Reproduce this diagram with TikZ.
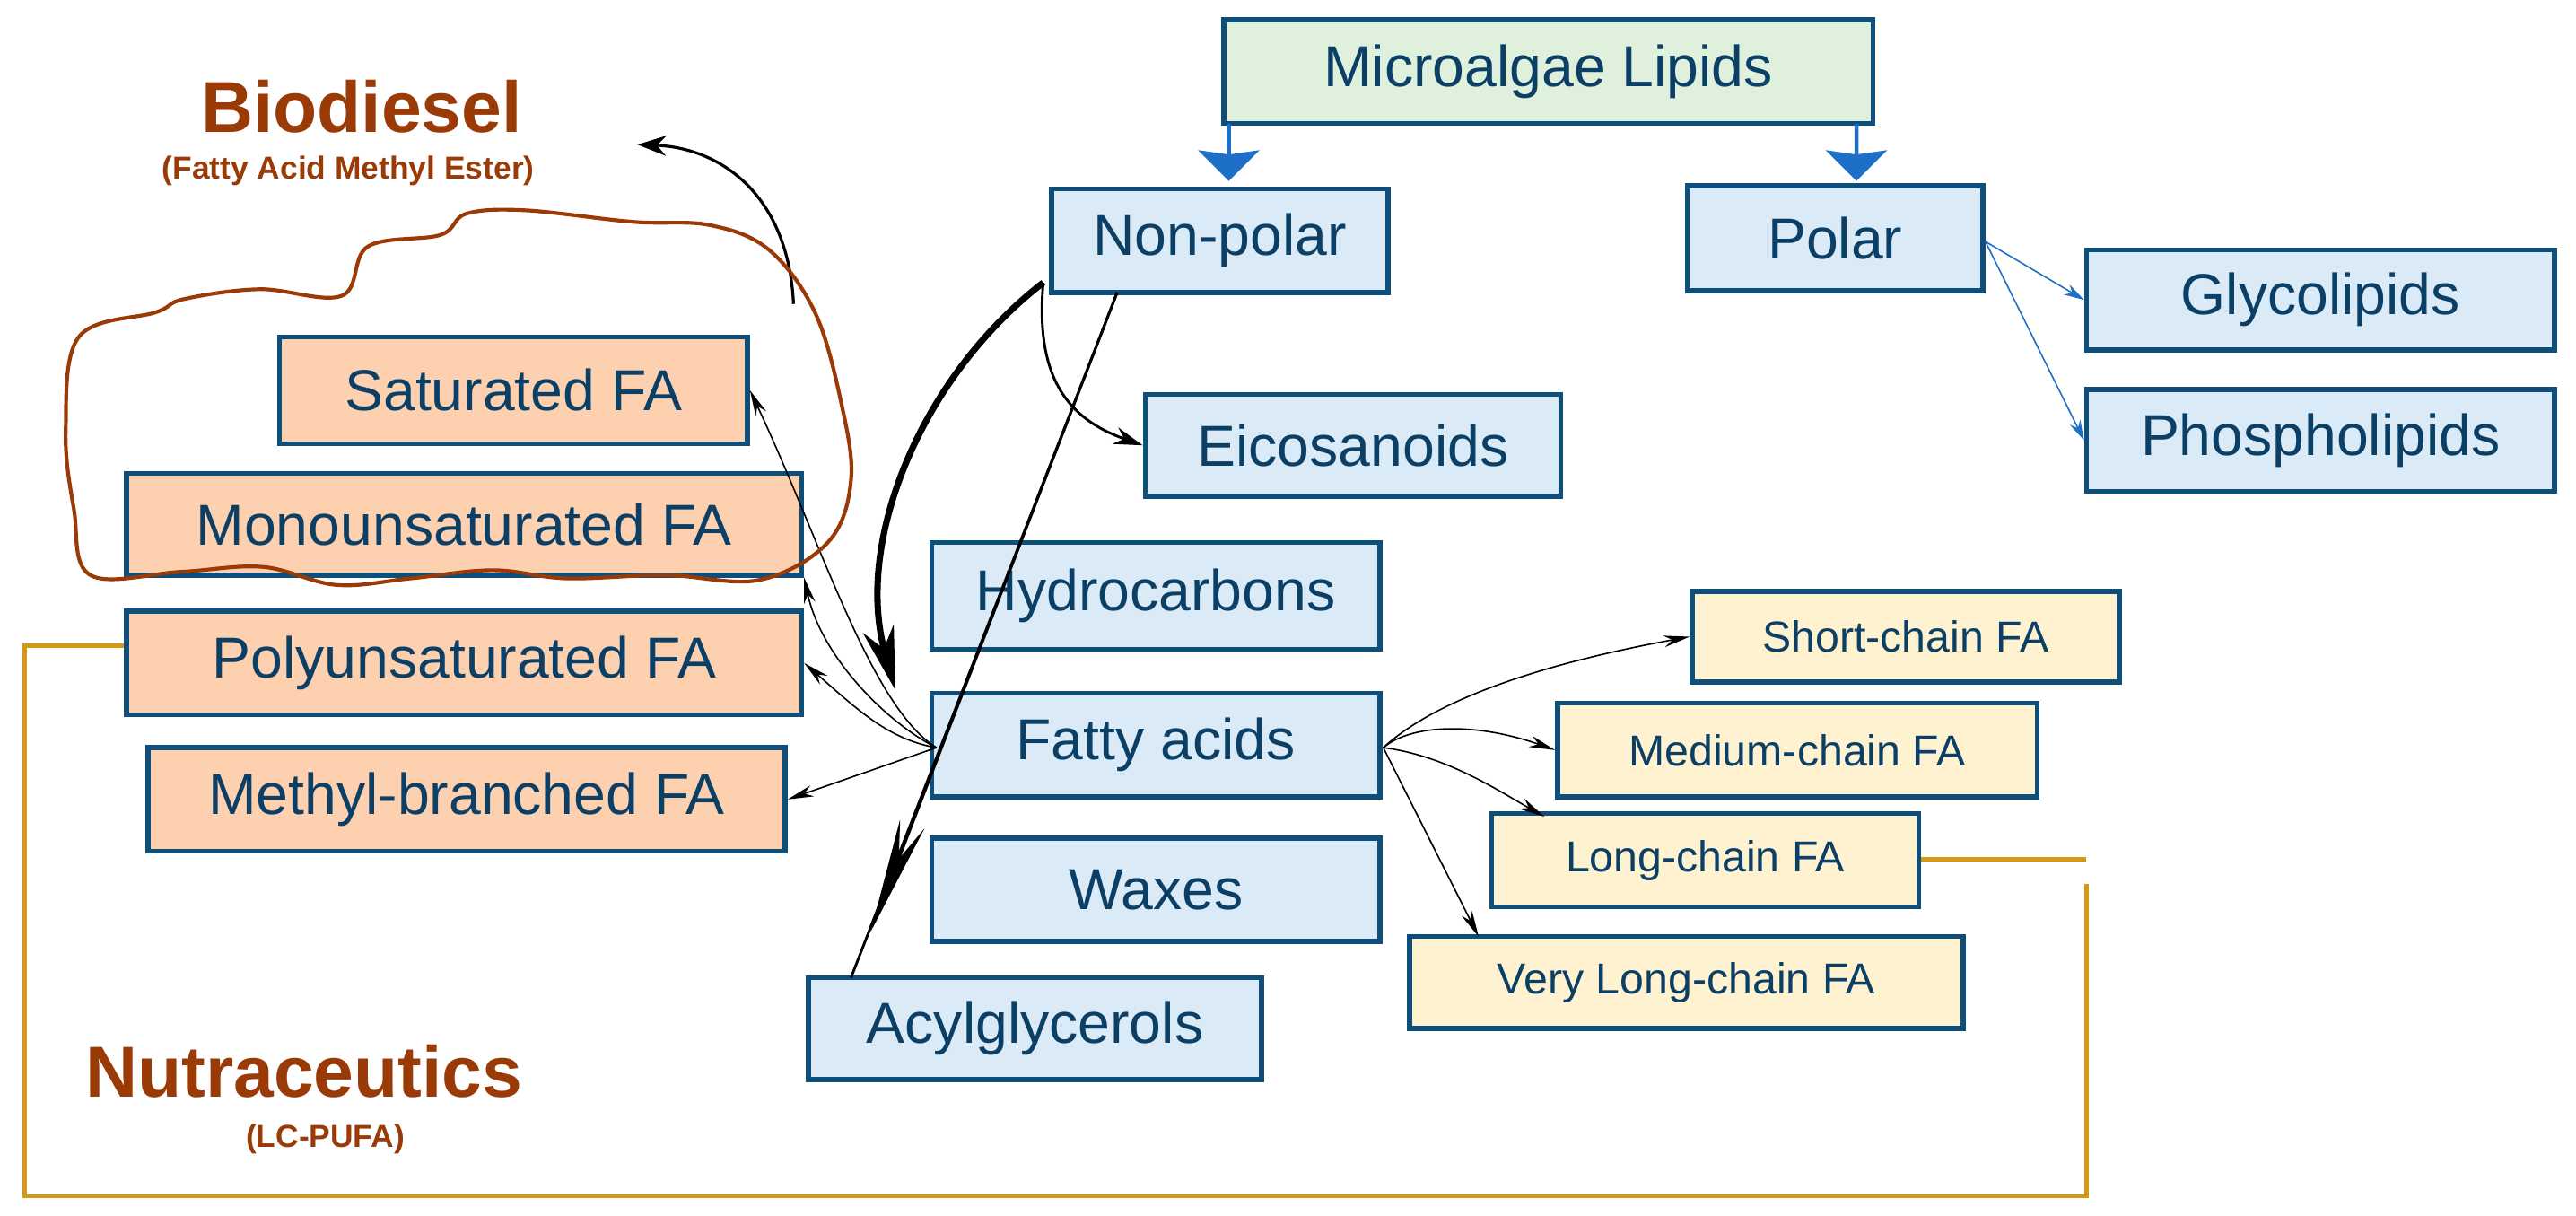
\documentclass[tikz,border=0pt]{standalone}
\usepackage{fontspec}
\setmainfont{Liberation Sans}
\usetikzlibrary{arrows.meta,shapes.arrows}
\definecolor{edgeblue}{HTML}{0D4F7A}
\definecolor{txtblue}{HTML}{0B3F66}
\definecolor{lightblue}{HTML}{DAEAF6}
\definecolor{lightgreen}{HTML}{DFF0DC}
\definecolor{peach}{HTML}{FDD0B0}
\definecolor{cream}{HTML}{FEF2D0}
\definecolor{rust}{HTML}{9A3A06}
\definecolor{gold}{HTML}{D49A12}
\definecolor{arrowblue}{HTML}{1D6FC8}
\tikzset{
  box/.style={draw=edgeblue,line width=1.7pt,text=txtblue,font=\fontsize{20}{22}\selectfont,inner sep=0pt},
  lip/.style={box,fill=lightblue},
  fatty/.style={box,fill=peach},
  chain/.style={box,fill=cream,font=\fontsize{15}{17}\selectfont},
  thin/.style={-{Stealth[length=9pt,width=4pt]},line width=0.5pt},
  bigdown/.style={single arrow,draw=none,fill=arrowblue,shape border rotate=270,minimum height=0.7cm,minimum width=0.75cm,single arrow head extend=0.1cm,single arrow head indent=0.05cm,inner sep=0pt}
}
\begin{document}
\begin{tikzpicture}[x=0.02cm,y=-0.02cm]
  \useasboundingbox (0,0) rectangle (1568,740);
  % golden link
  \draw[gold,line width=1.5pt] (88,393) -- (15,393) -- (15,728) -- (1270,728) -- (1270,538);
  \draw[gold,line width=1.5pt] (1168,523) -- (1270,523);
  % boxes
  \node[box,fill=lightgreen,minimum width=7.9cm,minimum height=1.26cm] (mal) at (942.5,43.5) {Microalgae Lipids};
  \node[lip,minimum width=4.1cm,minimum height=1.26cm] (np) at (742.5,146.5) {Non-polar};
  \node[lip,minimum width=3.6cm,minimum height=1.28cm] (pol) at (1117,145) {Polar};
  \node[lip,minimum width=5.7cm,minimum height=1.22cm] (gly) at (1412.5,182.5) {Glycolipids};
  \node[lip,minimum width=5.7cm,minimum height=1.24cm] (pho) at (1412.5,268) {Phospholipids};
  \node[lip,minimum width=5.06cm,minimum height=1.24cm] (eic) at (823.5,271) {Eicosanoids};
  \node[lip,minimum width=5.46cm,minimum height=1.3cm] (hyd) at (703.5,362.5) {Hydrocarbons};
  \node[lip,minimum width=5.46cm,minimum height=1.26cm] (fa) at (703.5,453.5) {Fatty acids};
  \node[lip,minimum width=5.46cm,minimum height=1.26cm] (wax) at (703.5,541.5) {Waxes};
  \node[lip,minimum width=5.52cm,minimum height=1.24cm] (acy) at (630,626) {Acylglycerols};
  \node[fatty,minimum width=5.7cm,minimum height=1.3cm] (sat) at (312.5,237.5) {Saturated FA};
  \node[fatty,minimum width=8.22cm,minimum height=1.24cm] (mono) at (282.5,319) {Monounsaturated FA};
  \node[fatty,minimum width=8.22cm,minimum height=1.26cm] (poly) at (282.5,403.5) {Polyunsaturated FA};
  \node[fatty,minimum width=7.76cm,minimum height=1.26cm] (meth) at (284,486.5) {Methyl-branched FA};
  \node[chain,minimum width=5.2cm,minimum height=1.1cm] (short) at (1160,387.5) {Short-chain FA};
  \node[chain,minimum width=5.84cm,minimum height=1.14cm] (med) at (1094,456.5) {Medium-chain FA};
  \node[chain,minimum width=5.2cm,minimum height=1.14cm] (long) at (1038,523.5) {Long-chain FA};
  \node[chain,minimum width=6.74cm,minimum height=1.12cm] (vlong) at (1026.5,598) {Very Long-chain FA};
  % titles
  \node[text=rust,font=\fontsize{25}{28}\selectfont\bfseries] (bio) at (220,65) {Biodiesel};
  \node[text=rust,font=\fontsize{11}{13}\selectfont\bfseries] (fame) at (212,104) {(Fatty Acid Methyl Ester)};
  \node[text=rust,font=\fontsize{25}{28}\selectfont\bfseries] (nut) at (185,652) {Nutraceutics};
  \node[text=rust,font=\fontsize{11}{13}\selectfont\bfseries] (lcp) at (198,693) {(LC-PUFA)};
  % blue block arrows
  \node[bigdown] (da) at (748,92) {};
  \node[bigdown] (db) at (1130,92) {};
  % polar
  \draw[thin,draw=arrowblue,-{Stealth[length=7pt,width=4pt]}] (pol.east) ++(0,2) -- (gly.west);
  \draw[thin,draw=arrowblue,-{Stealth[length=7pt,width=4pt]}] (pol.east) ++(0,2) -- (pho.west);
  % non-polar
  \coordinate (npl) at (635,172);
  \coordinate (npb) at (680,178);
  \coordinate (acyt) at (518,595);
  \draw[-{Stealth[length=22pt,width=11pt]},line width=2.2pt] (npl) .. controls (560,230) and (520,330) .. (545,420);
  \draw[-{Stealth[length=10pt,width=6pt]},line width=0.9pt] (npl) .. controls (630,230) and (650,255) .. (eic.west);
  \draw[line width=0.9pt] (npb) -- (acyt);
  \draw[-{Stealth[length=40pt,width=9pt]},line width=0.9pt] (npb) -- (530,567);
  % fatty acids fan
  \coordinate (fal) at (570,455);
  \coordinate (far) at (842,455);
  \draw[thin] (fal) .. controls (530,430) and (500,330) .. (sat.east);
  \draw[thin] (fal) .. controls (540,440) and (500,400) .. (mono.south east);
  \draw[thin] (fal) .. controls (540,450) and (520,430) .. (poly.east);
  \draw[thin] (fal) -- (meth.east);
  \draw[thin] (far) .. controls (880,420) and (960,400) .. (short.west);
  \draw[thin] (far) .. controls (860,440) and (900,440) .. (med.west);
  \draw[thin] (far) .. controls (880,460) and (910,480) .. (940,497);
  \draw[thin] (far) -- (900,570);
  % biodiesel
  \draw[-{Stealth[length=10pt,width=7pt]},line width=1pt] (483,185) .. controls (480,120) and (440,90) .. (388,88);
  % cloud
  \draw[rust,line width=1.3pt] plot[smooth cycle,tension=0.6] coordinates {
    (40,262) (48,205) (95,190) (112,182) (158,176) (208,180) (224,150) (268,143) (284,130)
    (320,128) (385,135) (432,137) (468,152) (496,190) (512,245) (518,292) (504,330)
    (462,353) (405,350) (345,352) (300,347) (250,352) (205,356) (160,345) (110,348)
    (55,350) (45,310)};
\end{tikzpicture}
\end{document}
